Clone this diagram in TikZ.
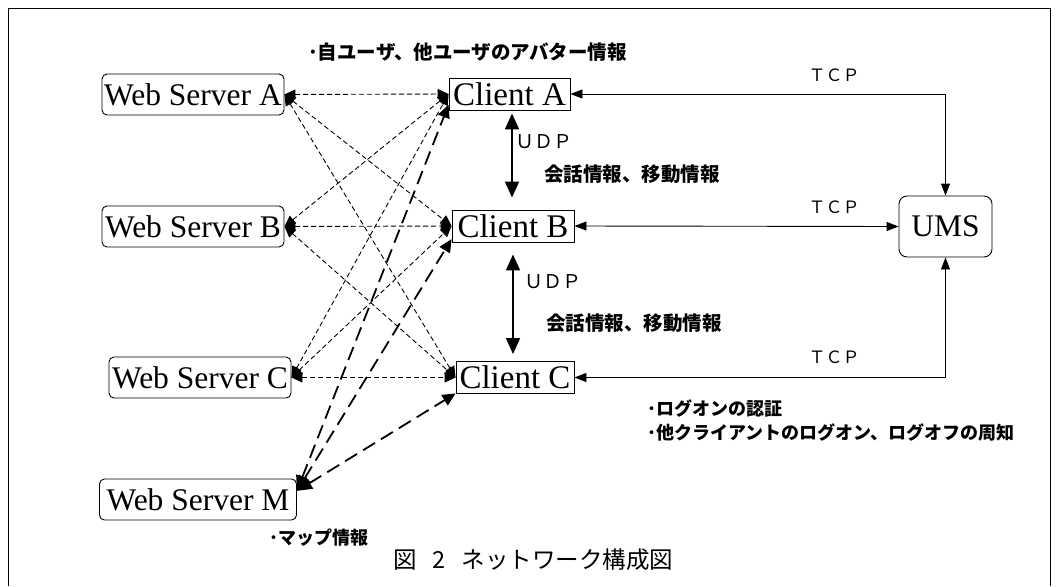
\documentclass[tikz,border=0pt]{standalone}
\usepackage{fontspec}
\setmainfont{Liberation Serif}
\newfontfamily\jp{Noto Sans CJK JP}
\usetikzlibrary{arrows.meta,calc}
\tikzset{
  server/.style={draw, rounded corners=5pt, line width=0.9pt, inner sep=0pt, minimum height=41pt, font=\fontsize{31.5}{31.5}\selectfont},
  client/.style={draw, line width=0.9pt, inner sep=0pt, minimum height=32pt, font=\fontsize{33}{33}\selectfont},
  sd/.style={dashed, dash pattern=on 5pt off 3pt, line width=0.9pt, {Triangle[length=11pt,width=10pt]}-{Triangle[length=11pt,width=10pt]}},
  ld/.style={dash pattern=on 14pt off 7pt, line width=1.8pt, {Triangle[length=15pt,width=13pt]}-{Triangle[length=13pt,width=12pt]}},
  tcp/.style={line width=0.9pt, {Triangle[length=12pt,width=9pt]}-{Triangle[length=12pt,width=9pt]}},
  udp/.style={line width=1.6pt, {Triangle[length=16pt,width=14pt]}-{Triangle[length=16pt,width=14pt]}},
  lbl/.style={inner sep=0pt, font=\jp\bfseries\fontsize{18}{18}\selectfont},
  proto/.style={inner sep=0pt, font=\jp\fontsize{17}{17}\selectfont},
}
\begin{document}
\begin{tikzpicture}[x=1pt,y=-1pt]
\useasboundingbox (0,0) rectangle (1062,586);
\draw[line width=0.9pt] (8,586) -- (8,8) -- (1050,8) -- (1050,586);

\node[server, minimum width=182pt] (A) at (193,94.5) {Web Server A};
\node[server, minimum width=182pt] (B) at (193,226.5) {Web Server B};
\node[server, minimum width=182pt] (C) at (200,377.5) {Web Server C};
\node[server, minimum width=197pt] (M) at (198,499.5) {Web Server M};

\node[client, minimum width=121pt] (CA) at (509.5,94) {Client A};
\node[client, minimum width=122pt] (CB) at (513,226) {Client B};
\node[client, minimum width=118pt] (CC) at (515,377.5) {Client C};

\node[server, minimum width=93pt, minimum height=61pt, rounded corners=8pt] (U) at (945.5,226.5) {UMS};

% short dashed server-client links
\foreach \s in {A,B,C}{
  \foreach \c in {CA,CB,CC}{
    \draw[sd] (\s.east) -- (\c.west);
  }
}
% long dashed links to Web Server M
\draw[ld] (M.5) -- (CA.190);
\draw[ld] (M.5) -- (CB.192);
\draw[ld] (M.5) -- (CC.195);

% TCP links
\draw[tcp] (CA.east) -| (U.north);
\draw[tcp] (CB.east) -- (U.west);
\draw[tcp] (U.south) |- (CC.east);

% UDP links
\coordinate (u1a) at ([xshift=2.5pt,yshift=-3pt]CA.south);
\coordinate (u1b) at ([xshift=-1pt,yshift=12pt]CB.north);
\draw[udp] (u1a) -- (u1b);
\coordinate (u2a) at ([yshift=-12pt]CB.south);
\coordinate (u2b) at ([xshift=-2pt,yshift=7pt]CC.north);
\draw[udp] (u2a) -- (u2b);

% labels
\node[lbl, anchor=west, font=\jp\bfseries\fontsize{19.5}{19.5}\selectfont] (lav) at (308,52) {･自ユーザ、他ユーザのアバター情報};
\node[proto] (t1) at (834,75) {ＴＣＰ};
\node[proto] (t2) at (834,207) {ＴＣＰ};
\node[proto] (t3) at (834,357) {ＴＣＰ};
\node[proto, anchor=west, font=\jp\fontsize{19}{19}\selectfont] (ud1) at (515,142) {ＵＤＰ};
\node[proto, anchor=west, font=\jp\fontsize{19}{19}\selectfont] (ud2) at (524,282) {ＵＤＰ};
\node[lbl, anchor=west, font=\jp\bfseries\fontsize{19.5}{19.5}\selectfont] (k1) at (544,174) {会話情報、移動情報};
\node[lbl, anchor=west, font=\jp\bfseries\fontsize{19.5}{19.5}\selectfont] (k2) at (546,323) {会話情報、移動情報};
\node[lbl, anchor=west] (lg1) at (647,408) {･ログオンの認証};
\node[lbl, anchor=west] (lg2) at (647,432) {･他クライアントのログオン、ログオフの周知};
\node[lbl, anchor=west] (map) at (269,538) {･マップ情報};
\node[inner sep=0pt, anchor=west, font=\jp\fontsize{23.5}{23.5}\selectfont] (cap) at (393,560) {図\hspace{16pt}2\hspace{16pt}ネットワーク構成図};
\end{tikzpicture}
\end{document}
